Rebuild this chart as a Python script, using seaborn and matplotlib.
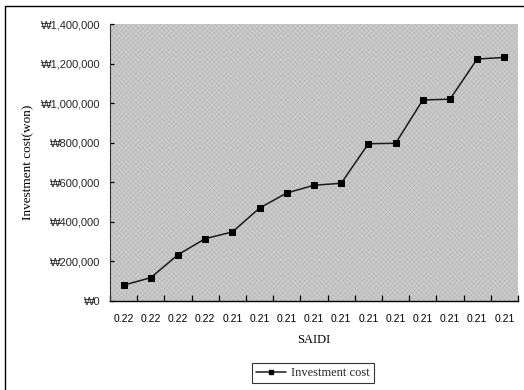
import numpy as np
import pandas as pd
import seaborn as sns
import matplotlib
matplotlib.use("Agg")
import matplotlib.pyplot as plt
from matplotlib.ticker import FuncFormatter, FixedLocator, MultipleLocator
from matplotlib.lines import Line2D

# SAIDI value for each investment step (category axis)
saidi_labels = ["0.22", "0.22", "0.22", "0.22", "0.21", "0.21", "0.21", "0.21",
                "0.21", "0.21", "0.21", "0.21", "0.21", "0.21", "0.21"]
# cumulative investment cost in won
investment_cost = [80000, 118000, 234000, 315000, 349000, 470000, 546000, 585000,
                   595000, 795000, 797000, 1016000, 1020000, 1223000, 1231000]
y_ticks = [0, 200000, 400000, 600000, 800000, 1000000, 1200000, 1400000]

df = pd.DataFrame({"step": np.arange(len(investment_cost)),
                   "SAIDI": saidi_labels,
                   "cost": investment_cost})

sns.set_theme(style="white")
plt.rcParams["hatch.linewidth"] = 0.35
serif = ["Liberation Serif", "DejaVu Serif"]
sans = ["Liberation Sans", "DejaVu Sans"]

fig = plt.figure(figsize=(5.24, 3.90), dpi=100)
ax = fig.add_axes([110 / 524, 1 - 301 / 390, 408 / 524, 277 / 390])

# grainy grey plot area
ax.set_facecolor("#cbcbcb")
ax.patch.set_hatch("xxxxxxx")
ax.patch.set_edgecolor("#b4b4b4")

sns.lineplot(data=df, x="step", y="cost", ax=ax, color="#1a1a1a", linewidth=1.1,
             marker="s", markersize=4.6, markeredgecolor="black",
             markerfacecolor="black", legend=False)

ax.set_xlim(-0.5, len(investment_cost) - 0.5)
ax.set_ylim(y_ticks[0], y_ticks[-1])

# category labels at the points, tick marks between categories
ax.xaxis.set_major_locator(FixedLocator(df["step"].tolist()))
ax.set_xticklabels(saidi_labels)
ax.xaxis.set_minor_locator(MultipleLocator(1, offset=0.5))
ax.tick_params(axis="x", which="major", length=0, pad=9.5, labelsize=7.5,
               colors="black")
ax.tick_params(axis="x", which="minor", direction="in", length=4, width=0.9,
               color="black", bottom=True)

ax.yaxis.set_major_locator(FixedLocator(y_ticks))
ax.yaxis.set_major_formatter(FuncFormatter(lambda v, p: "₩{:,.0f}".format(v)))
ax.tick_params(axis="y", which="major", direction="in", length=3, width=0.9,
               color="black", left=True, pad=7, labelsize=8)
for lab in ax.get_xticklabels() + ax.get_yticklabels():
    lab.set_family(sans)

for side in ["top", "right"]:
    ax.spines[side].set_visible(False)
ax.spines["left"].set_color("#333333")
ax.spines["left"].set_linewidth(0.8)
ax.spines["bottom"].set_color("black")
ax.spines["bottom"].set_linewidth(1.0)

ax.set_xlabel("SAIDI", family=serif, fontsize=9, color="black")
ax.xaxis.set_label_coords(0.5, (301 - 340) / 277)
ax.xaxis.label.set_va("center")
ax.set_ylabel("Investment cost(won)", family=serif, fontsize=9.5, color="black")
ax.yaxis.set_label_coords((28 - 110) / 408, 0.5)
ax.yaxis.label.set_va("center")
ax.yaxis.label.set_ha("center")

handle = Line2D([], [], color="#1a1a1a", linewidth=1.1, marker="s",
                markersize=3.5, markerfacecolor="black", markeredgecolor="black")
leg = fig.legend([handle], ["Investment cost"], loc="center",
                 bbox_to_anchor=(313 / 524, 1 - 373 / 390),
                 prop={"family": serif, "size": 9}, frameon=True,
                 fancybox=False, handlelength=2.4, handletextpad=0.4,
                 borderpad=0.35, borderaxespad=0)
leg.get_frame().set_edgecolor("black")
leg.get_frame().set_linewidth(0.8)

# outer chart frame (top and left edges visible)
fig.add_artist(Line2D([5 / 524, 1.0], [1 - 6 / 390, 1 - 6 / 390],
                      transform=fig.transFigure, color="black", linewidth=1.0))
fig.add_artist(Line2D([5 / 524, 5 / 524], [0.0, 1 - 6 / 390],
                      transform=fig.transFigure, color="black", linewidth=1.0))

fig.savefig("out.png", dpi=100)
